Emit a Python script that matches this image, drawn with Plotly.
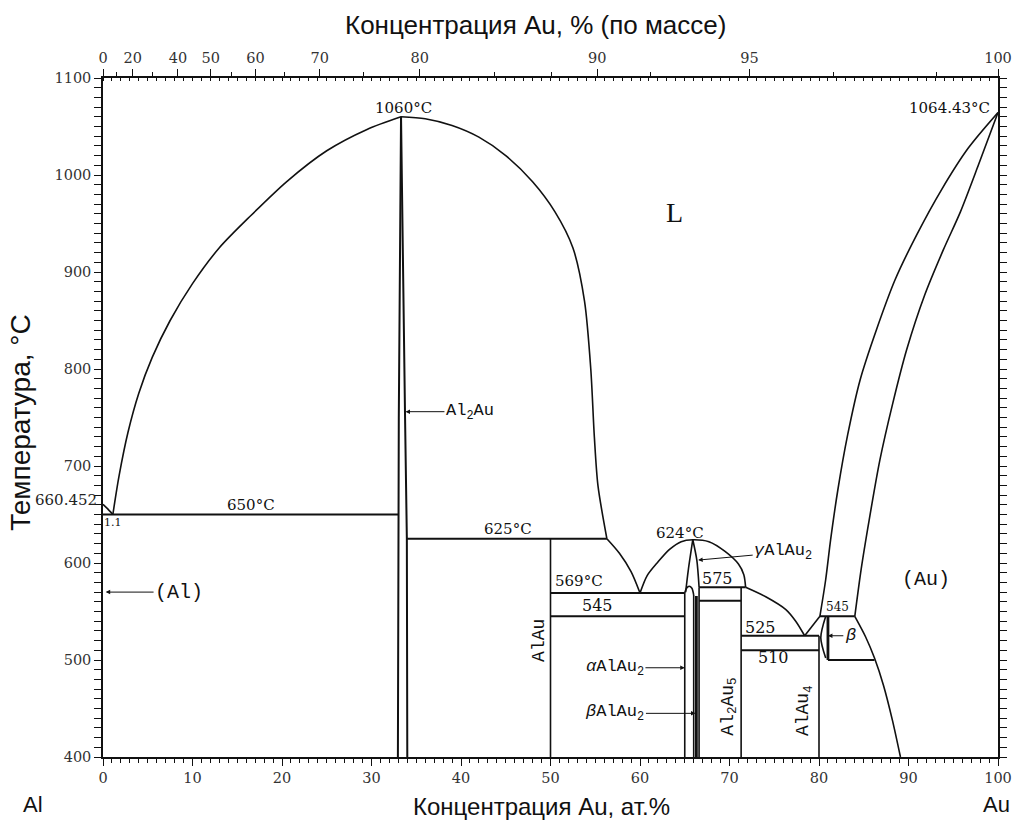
import plotly.graph_objects as go

# ---------------- data (at.% Au, °C) ----------------
T_AL_MELT = 660.452
T_AU_MELT = 1064.43
AU_MASS = 196.97
AL_MASS = 26.98

# Al-side liquidus
al_liq_x = [0.0, 0.5, 1.1]
al_liq_t = [T_AL_MELT, 656.0, 650.0]

# Al2Au liquidus, left and right branches
al2au_liqL_x = [1.1, 1.8, 2.8, 4.0, 5.5, 7.5, 10.0, 13.0, 16.5, 20.5, 25.0, 29.5, 33.3]
al2au_liqL_t = [650, 690, 735, 775, 812, 850, 888, 925, 958, 993, 1025, 1047, 1060]
al2au_liqR_x = [33.3, 36.0, 39.0, 42.0, 45.0, 48.0, 50.5, 52.5, 53.8, 54.5, 54.9, 55.3, 56.3]
al2au_liqR_t = [1060, 1058, 1051, 1039, 1020, 993, 962, 925, 870, 800, 730, 680, 625]

# liquidus 625 -> eutectic 569
liq_b_x = [56.3, 57.7, 59.0, 60.0]
liq_b_t = [625, 610, 591, 569]

# gamma AlAu2 liquidus dome
gam_liq_x = [60.0, 60.8, 62.0, 63.3, 64.6, 65.9, 67.7, 69.5, 71.0, 71.6, 71.8]
gam_liq_t = [569, 587, 601, 614, 622, 624, 622, 612, 599, 588, 575]

# liquidus 575 -> eutectic 525
liq_c_x = [71.8, 74.1, 76.3, 77.4, 78.4]
liq_c_t = [575, 565, 552, 540, 525]

# Au-side liquidus
liq_d_x = [78.4, 80.1]
liq_d_t = [525, 545]
au_liq_x = [80.1, 80.75, 81.3, 82.1, 83.2, 84.6, 86.4, 88.5, 90.9, 93.7, 96.7, 100]
au_liq_t = [545, 583, 624, 675, 732, 789, 840, 892, 938, 985, 1028, T_AU_MELT]

# (Au) solidus and solvus
au_sol_x = [84.0, 84.7, 85.6, 86.8, 88.2, 89.8, 91.8, 93.9, 95.8, 97.8, 100]
au_sol_t = [545, 593, 644, 706, 763, 820, 876, 923, 962, 1010, T_AU_MELT]
au_solv_x = [84.0, 85.2, 86.2, 87.2, 88.2, 89.1]
au_solv_t = [545, 524, 502, 474, 438, 400]

# Al2Au compound boundaries
al2au_L_x = [32.95, 33.0, 33.05, 33.3]
al2au_L_t = [400, 650, 750, 1060]
al2au_R_x = [34.0, 33.95, 33.75, 33.3]
al2au_R_t = [400, 625, 750, 1060]

# gamma AlAu2 boundaries
gam_L_x = [65.9, 65.4, 65.1]
gam_L_t = [624, 593, 570]
gam_R_x = [65.9, 66.35, 66.6]
gam_R_t = [624, 603, 575]

# alpha AlAu2 top hump
alp_hump_x = [65.0, 65.2, 65.5, 65.8, 66.0]
alp_hump_t = [569, 574, 576, 574, 567]

# invariant horizontals: (T, x_from, x_to)
iso_T = [650, 625, 569, 545, 575, 561, 525, 510, 545, 500]
iso_x1 = [0.0, 33.95, 50.0, 50.0, 66.6, 66.6, 71.3, 71.3, 80.1, 81.0]
iso_x2 = [33.0, 56.3, 65.0, 65.0, 71.8, 71.3, 80.0, 80.0, 84.0, 86.2]

# vertical phase lines: (x, T_bottom, T_top)
vert_x = [50.0, 65.0, 66.0, 66.6, 71.3, 80.0]
vert_t1 = [400, 400, 400, 400, 400, 400]
vert_t2 = [625, 569, 567, 575, 575, 525]
thick_x = [66.3, 81.0]
thick_t1 = [400, 500]
thick_t2 = [566, 545]

# beta region left boundary
beta_L_x = [80.75, 80.2, 80.75]
beta_L_t = [545, 523, 502]

# top axis (mass %)
wt_labels = [0, 20, 40, 50, 60, 70, 80, 90, 95, 100]
wt_unlabeled = [10, 30, 55, 65, 75, 85, 88, 92, 97, 99]
at_minor = list(range(0, 101))


def wt_to_at(w):
    if w >= 100:
        return 100.0
    a = w / AU_MASS
    b = (100 - w) / AL_MASS
    return 100 * a / (a + b)


fig = go.Figure()

BLACK = "#111111"


def add_line(xs, ts, width=1.6, shape="linear"):
    fig.add_trace(go.Scatter(x=xs, y=ts, mode="lines",
                             line=dict(color=BLACK, width=width, shape=shape, smoothing=0.8),
                             hoverinfo="skip", showlegend=False))


add_line(al_liq_x, al_liq_t, shape="spline")
add_line(al2au_liqL_x, al2au_liqL_t, shape="spline")
add_line(al2au_liqR_x, al2au_liqR_t, shape="spline")
add_line(liq_b_x, liq_b_t, shape="spline")
add_line(gam_liq_x, gam_liq_t, shape="spline")
add_line(liq_c_x, liq_c_t, shape="spline")
add_line(liq_d_x, liq_d_t)
add_line(au_liq_x, au_liq_t, shape="spline")
add_line(au_sol_x, au_sol_t, shape="spline")
add_line(au_solv_x, au_solv_t, shape="spline")
add_line(al2au_L_x, al2au_L_t, width=2.0)
add_line(al2au_R_x, al2au_R_t, width=2.0)
add_line(gam_L_x, gam_L_t, shape="spline")
add_line(gam_R_x, gam_R_t, shape="spline")
add_line(alp_hump_x, alp_hump_t, shape="spline")
add_line(beta_L_x, beta_L_t, shape="spline")

for T, a, b in zip(iso_T, iso_x1, iso_x2):
    add_line([a, b], [T, T], width=2.0)
for x, t1, t2 in zip(vert_x, vert_t1, vert_t2):
    add_line([x, x], [t1, t2], width=1.6)
for x, t1, t2 in zip(thick_x, thick_t1, thick_t2):
    add_line([x, x], [t1, t2], width=2.8)

# helper traces for the top axes
for ax in ("x2", "x3"):
    fig.add_trace(go.Scatter(x=[0, 100], y=[400, 400], xaxis=ax, mode="lines",
                             line=dict(width=0), opacity=0, hoverinfo="skip", showlegend=False))

SERIF = "DejaVu Serif"
MONO = "Liberation Mono"
SANS = "Liberation Sans"

ann = []


def txt(x, y, s, size=15, angle=0, font=SERIF):
    ann.append(dict(x=x, y=y, xref="x", yref="y", text=s, showarrow=False,
                    xanchor="center", yanchor="middle",
                    textangle=angle, font=dict(family=font, size=size, color=BLACK)))


def arrow(x, y, tx, ty, s, size=17):
    ann.append(dict(x=x, y=y, ax=tx, ay=ty, xref="x", yref="y", axref="x", ayref="y",
                    text=s, showarrow=True, arrowhead=2, arrowsize=0.9, arrowwidth=1,
                    arrowcolor=BLACK, font=dict(family=MONO, size=size, color=BLACK)))


txt(33.6, 1069, "1060°C")
txt(94.6, 1069, "1064.43°C")
txt(63.8, 961, "L", size=28, font="Liberation Serif")
txt(1.1, 642, "1.1", size=11)
txt(16.5, 660, "650°C")
txt(45.2, 635, "625°C")
txt(53.2, 581.5, "569°C")
txt(55.2, 556, "545", size=16)
txt(64.5, 631, "624°C")
txt(68.7, 584.5, "575", size=16)
txt(73.5, 534, "525", size=16)
txt(74.9, 503, "510", size=16)
txt(82.1, 554.6, "545", size=12)
txt(92.0, 582.5, "(Au)", size=20, font=MONO)
txt(48.7, 520.6, "AlAu", size=18, angle=-90, font=MONO)
txt(69.9, 451.5, "Al<sub>2</sub>Au<sub>5</sub>", size=18, angle=-90, font=MONO)
txt(78.4, 448, "AlAu<sub>4</sub>", size=18, angle=-90, font=MONO)
ann.append(dict(x=0, y=T_AL_MELT, xref="x", yref="y", text="660.452", showarrow=False,
                xanchor="right", yanchor="middle", xshift=-4, yshift=4,
                font=dict(family=SERIF, size=15, color="#222222")))

arrow(0.3, 570, 8.5, 570, "(Al)", size=20)
arrow(33.8, 756, 41.0, 756, "Al<sub>2</sub>Au", size=17)
arrow(65.0, 492, 57.2, 492, "<i>α</i>AlAu<sub>2</sub>", size=17)
arrow(66.2, 445, 57.2, 445, "<i>β</i>AlAu<sub>2</sub>", size=17)
arrow(66.5, 603, 76.0, 611, "<i>γ</i>AlAu<sub>2</sub>", size=17)
arrow(81.0, 525, 83.5, 525, "<i>β</i>", size=17)

# axis titles / element names (paper coordinates)
L, R, T, B = 103, 1007, 78, 757
W, H = R - L, B - T


def px_ann(px, py, s, size=20, angle=0, family=SANS):
    ann.append(dict(x=(px - L) / W, y=(B - py) / H, xref="paper", yref="paper",
                    xanchor="center", yanchor="middle",
                    text=s, showarrow=False, textangle=angle,
                    font=dict(family=family, size=size, color=BLACK)))


px_ann(540, 25, "Концентрация Au, % (по массе)", size=26)
px_ann(546, 806, "Концентрация Au, ат.%", size=24)
px_ann(19, 422, "Температура, °C", size=28, angle=-90)
px_ann(32, 804, "Al", size=22)
px_ann(1005, 804, "Au", size=22)

tickfont = dict(family=SERIF, size=14.5, color="#333333")

fig.update_layout(
    width=1024, height=823,
    margin=dict(l=L, r=1024 - R, t=T, b=823 - B),
    paper_bgcolor="white", plot_bgcolor="white",
    showlegend=False,
    annotations=ann,
    xaxis=dict(range=[0, 100], tickmode="array", tickvals=list(range(0, 101, 10)),
               ticks="outside", ticklen=7, tickwidth=1, tickcolor=BLACK,
               minor=dict(tickmode="array", tickvals=at_minor, ticks="outside", ticklen=4,
                          tickcolor=BLACK, showgrid=False),
               showline=True, linecolor=BLACK, linewidth=1.5, mirror=True,
               showgrid=False, zeroline=False, tickfont=tickfont),
    xaxis2=dict(range=[0, 100], overlaying="x", side="top", anchor="y",
                tickmode="array",
                tickvals=[wt_to_at(w) for w in wt_labels],
                ticktext=[str(w) for w in wt_labels],
                ticks="outside", ticklen=7, tickwidth=1, tickcolor=BLACK,
                minor=dict(tickmode="array", tickvals=at_minor, ticks="inside", ticklen=3,
                           tickcolor=BLACK, showgrid=False),
                showline=True, linecolor=BLACK, linewidth=1.5,
                showgrid=False, zeroline=False, tickfont=tickfont),
    xaxis3=dict(range=[0, 100], overlaying="x", side="top", anchor="y",
                tickmode="array", tickvals=[wt_to_at(w) for w in wt_unlabeled],
                showticklabels=False, ticks="outside", ticklen=5, tickwidth=1,
                tickcolor=BLACK, showline=False, showgrid=False, zeroline=False),
    yaxis=dict(range=[400, 1100], tickmode="array", tickvals=list(range(400, 1101, 100)),
               ticks="outside", ticklen=7, tickwidth=1, tickcolor=BLACK,
               minor=dict(dtick=10, ticks="outside", ticklen=4, tickcolor=BLACK, showgrid=False),
               showline=True, linecolor=BLACK, linewidth=1.5, mirror="allticks",
               showgrid=False, zeroline=False, tickfont=tickfont),
)

fig.write_html("out.html")
